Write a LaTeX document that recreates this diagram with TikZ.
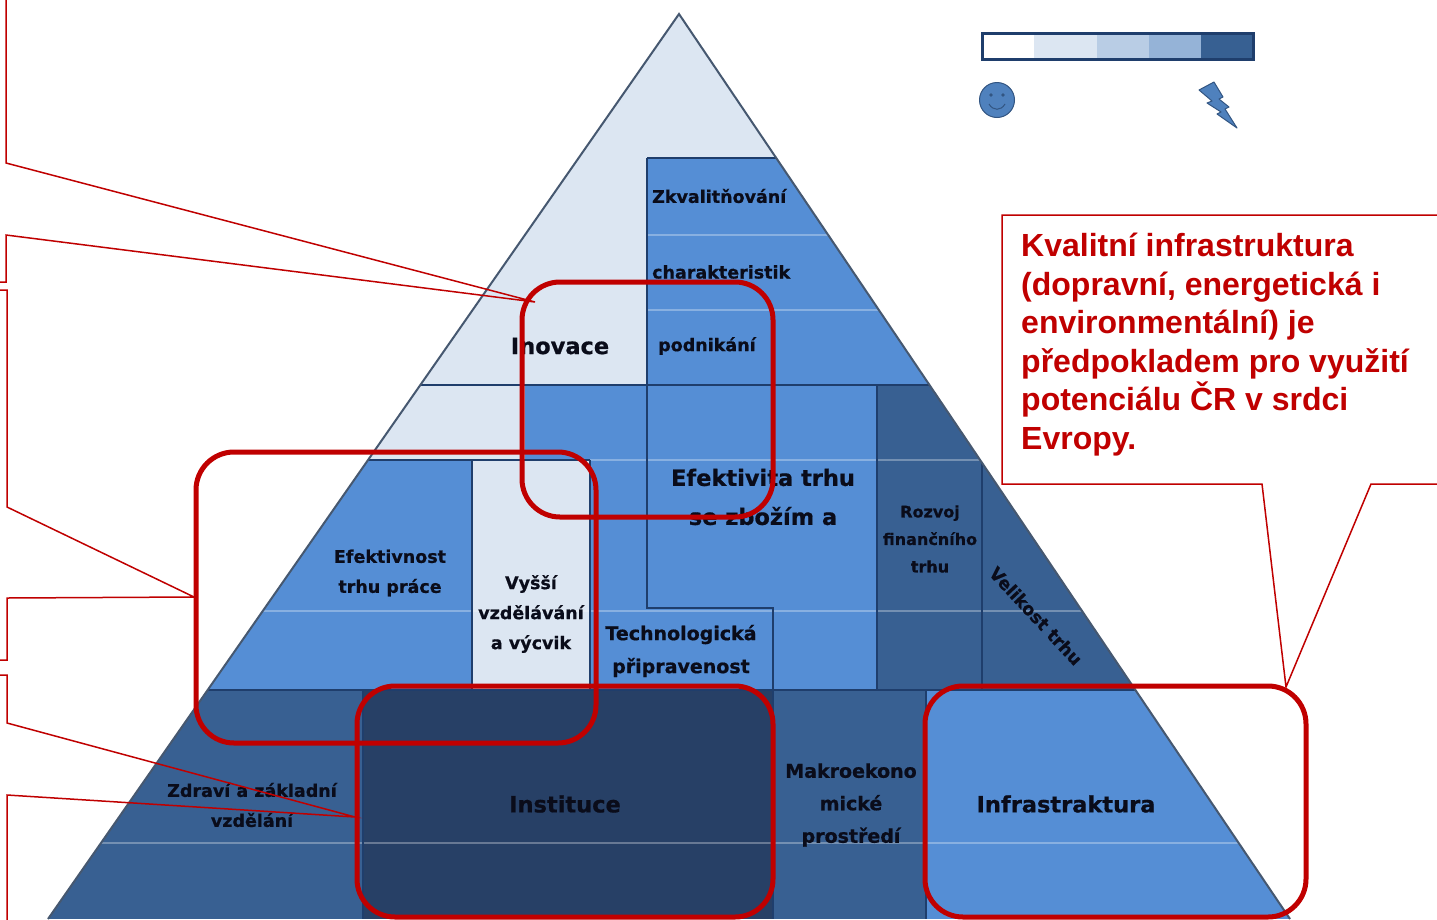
\documentclass[tikz,border=0pt]{standalone}
\usepackage{fontspec}
\newfontfamily\labfont{DejaVu Sans}[BoldFeatures={FakeBold=0.7}]
\newfontfamily\callfont{Liberation Sans}
\definecolor{lightb}{RGB}{220,230,242}
\definecolor{midb}{RGB}{85,142,213}
\definecolor{darkb}{RGB}{56,96,146}
\definecolor{deepb}{RGB}{39,64,102}
\definecolor{navy}{RGB}{31,62,108}
\definecolor{edgec}{RGB}{70,88,112}
\definecolor{redc}{RGB}{192,0,0}
\definecolor{txt}{RGB}{10,12,26}
\definecolor{leg1}{RGB}{220,230,242}
\definecolor{leg2}{RGB}{185,205,229}
\definecolor{leg3}{RGB}{149,179,215}
\definecolor{leg4}{RGB}{55,96,146}
\definecolor{iconb}{RGB}{79,129,189}
\definecolor{icond}{RGB}{50,85,130}
\begin{document}
\begin{tikzpicture}[x=1pt,y=-1pt,
  lab/.style={font={\labfont\bfseries\fontsize{17.5}{30}\selectfont}, text=txt, align=center, inner sep=0pt},
  labbig/.style={font={\labfont\bfseries\fontsize{22.5}{39}\selectfont}, text=txt, align=center, inner sep=0pt},
  labmid/.style={font={\labfont\bfseries\fontsize{19}{33}\selectfont}, text=txt, align=center, inner sep=0pt},
  labsmall/.style={font={\labfont\bfseries\fontsize{16}{27.5}\selectfont}, text=txt, align=center, inner sep=0pt},
  blk/.style={draw=navy, line width=2.2pt},
  faint/.style={draw=white, opacity=0.3, line width=1.2pt},
  redbox/.style={draw=redc, line width=5pt, rounded corners=38pt, inner sep=0pt, fill=none},
  callout/.style={draw=redc, line width=1.5pt, line join=miter},
]
\useasboundingbox (0,0) rectangle (1437,919);
\clip (0,0) rectangle (1437,919);
\fill[white] (0,0) rectangle (1437,919);

% ---------- pyramid blocks ----------
\begin{scope}
  \clip (679,14) -- (48,919) -- (1290,919) -- cycle;
  \fill[lightb] (0,0) rectangle (1437,919);
  \fill[midb] (647,158) rectangle (1437,385);
  \fill[midb] (525,385) rectangle (877,690);
  \fill[darkb] (877,385) rectangle (1437,690);
  \fill[midb] (0,460) rectangle (472,690);
  \fill[lightb] (472,460) rectangle (590,690);
  \fill[darkb] (0,690) rectangle (363,919);
  \fill[deepb] (363,690) rectangle (773,919);
  \fill[darkb] (773,690) rectangle (926,919);
  \fill[midb] (926,690) rectangle (1437,919);
  % faint band lines
  \draw[faint] (647,235) -- (1437,235);
  \draw[faint] (647,310) -- (1437,310);
  \draw[faint] (590,460) -- (1437,460);
  \draw[faint] (0,611) -- (1437,611);
  \draw[faint] (0,843) -- (1437,843);
  % block borders
  \draw[blk] (647,158) -- (1437,158);
  \draw[blk] (647,158) -- (647,608) -- (773,608) -- (773,919);
  \draw[blk] (0,385) -- (1437,385);
  \draw[blk] (0,460) -- (590,460);
  \draw[blk] (472,460) -- (472,690);
  \draw[blk] (590,460) -- (590,690);
  \draw[blk] (877,385) -- (877,690);
  \draw[blk] (982,460) -- (982,690);
  \draw[blk] (0,690) -- (1437,690);
  \draw[blk] (363,690) -- (363,919);
  \draw[blk] (926,690) -- (926,919);
\end{scope}
\draw[edgec, line width=2pt, line join=miter] (48,919) -- (679,14) -- (1290,919);

% ---------- pyramid labels ----------
\node[lab, anchor=west] (zk) at (652,196) {Zkvalitňování};
\node[lab, anchor=west] (ch) at (652,272) {charakteristik};
\node[lab, anchor=west] (po) at (658,346) {podnikání};
\node[labbig] (ino) at (560,346) {Inovace};
\node[labbig] (eftz) at (763,497) {Efektivita trhu\\se zbožím a};
\node[labsmall] (rfz) at (930,539) {Rozvoj\\finančního\\trhu};
\node[lab, rotate=-47] (vel) at (1036,616) {Velikost trhu};
\node[lab] (etp) at (390,573) {Efektivnost\\trhu práce};
\node[lab] (vvv) at (531,614) {Vyšší\\vzdělávání\\a výcvik};
\node[labmid] (tp) at (681,651) {Technologická\\připravenost};
\node[lab] (zzv) at (252,805) {Zdraví a základní\\vzdělání};
\node[labbig] (ins) at (565,804) {Instituce};
\node[labmid, font={\labfont\bfseries\fontsize{19}{32.5}\selectfont}] (mak) at (851,805) {Makroekono\\mické\\prostředí};
\node[labbig] (inf) at (1066,804) {Infrastraktura};

% ---------- legend ----------
\fill[white] (982,33) rectangle (1034,59);
\fill[leg1] (1034,33) rectangle (1097,59);
\fill[leg2] (1097,33) rectangle (1149,59);
\fill[leg3] (1149,33) rectangle (1201,59);
\fill[leg4] (1201,33) rectangle (1253,59);
\draw[navy, line width=3pt] (982,33) rectangle (1253,59);
% smiley
\fill[iconb, draw=icond, line width=1pt] (997,100) circle (17.5);
\fill[icond] (991,95) circle (1.8);
\fill[icond] (1003,95) circle (1.8);
\draw[icond, line width=1pt] (989,104) .. controls (993,111) and (1001,111) .. (1005,104);
% lightning bolt
\fill[iconb, draw=icond, line width=1pt, line join=round]
  (1199,90) -- (1214,82) -- (1223,97) -- (1219,99) -- (1229,107) -- (1225,109)
  -- (1237,128) -- (1217,114) -- (1221,112) -- (1207,103) -- (1212,101) -- cycle;

% ---------- red highlight boxes ----------
\node[redbox, minimum width=251pt, minimum height=235pt] (r1) at (647.5,399.5) {};
\node[redbox, minimum width=400pt, minimum height=291pt] (r2) at (396,597.5) {};
\node[redbox, minimum width=416pt, minimum height=231pt] (r3) at (565,801.5) {};
\node[redbox, minimum width=381pt, minimum height=231pt] (r4) at (1115.5,801.5) {};

% ---------- callouts ----------
\coordinate (t1) at (535,302);
\coordinate (t2) at (194,597);
\coordinate (t3) at (355,817);
\coordinate (t4) at (1286,687);
\draw[callout] (-5,282) -- (6,282) -- (6,235) -- (t1) -- (6,163) -- (6,-5);
\draw[callout] (-5,290) -- (7,290) -- (7,507) -- (t2) -- (7,598) -- (7,660) -- (-5,660);
\draw[callout] (-5,675) -- (7,675) -- (7,723) -- (t3) -- (7,795) -- (7,930);
\draw[callout, fill=white] (1445,215) -- (1002,215) -- (1002,484) -- (1262,484) -- (t4) -- (1371,484) -- (1445,484);
\node[anchor=north west, inner sep=0pt, align=left, text=redc,
      font={\callfont\bfseries\fontsize{32}{38.5}\selectfont}] (ct) at (1021,233)
  {Kvalitní infrastruktura\\(dopravní, energetická i\\environmentální) je\\předpokladem pro využití\\potenciálu ČR v srdci\\Evropy.};
\end{tikzpicture}
\end{document}
